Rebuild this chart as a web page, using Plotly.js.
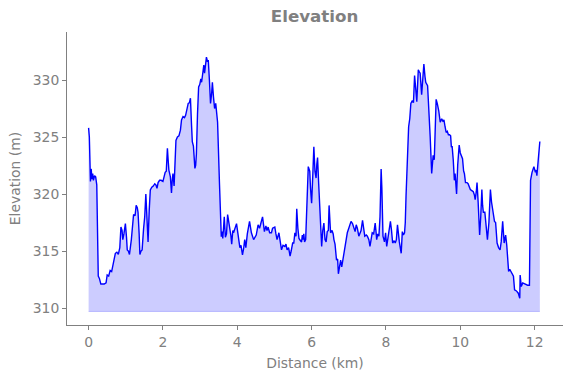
<!DOCTYPE html>
<html>
<head>
<meta charset="utf-8">
<script src="https://cdn.plot.ly/plotly-3.0.1.min.js"></script>
<style>html,body{margin:0;padding:0;background:#fff;}#chart{width:571px;height:378px;}</style>
</head>
<body>
<div id="chart"></div>
<script>
// Distance along route (km)
const distance = [
0.00,0.02,0.05,0.07,0.09,0.11,0.13,0.16,0.19,0.22,0.26,0.29,0.33,0.37,0.42,0.47,0.50,0.54,0.58,0.62,
0.65,0.72,0.76,0.80,0.84,0.87,0.90,0.92,0.95,0.99,1.02,1.04,1.07,1.10,1.15,1.21,1.25,1.28,1.31,1.33,
1.36,1.38,1.41,1.44,1.48,1.51,1.54,1.57,1.60,1.63,1.66,1.70,1.74,1.78,1.81,1.84,1.87,1.91,1.95,2.00,
2.03,2.06,2.09,2.12,2.14,2.16,2.20,2.23,2.25,2.27,2.30,2.33,2.35,2.39,2.43,2.47,2.50,2.54,2.58,2.61,
2.65,2.68,2.71,2.74,2.77,2.79,2.82,2.86,2.88,2.90,2.93,2.96,2.99,3.02,3.04,3.06,3.08,3.10,3.12,3.15,
3.17,3.20,3.22,3.25,3.28,3.31,3.33,3.36,3.39,3.42,3.45,3.47,3.52,3.57,3.59,3.61,3.63,3.65,3.68,3.71,
3.74,3.77,3.80,3.83,3.85,3.88,3.90,3.93,3.95,3.98,4.01,4.04,4.07,4.10,4.14,4.17,4.20,4.23,4.27,4.33,
4.38,4.44,4.51,4.56,4.60,4.64,4.68,4.73,4.77,4.80,4.83,4.87,4.92,4.95,5.01,5.04,5.07,5.12,5.15,5.19,
5.23,5.28,5.31,5.34,5.38,5.42,5.45,5.49,5.52,5.55,5.58,5.60,5.63,5.66,5.70,5.73,5.75,5.77,5.79,5.81,
5.84,5.87,5.91,5.93,5.95,5.97,6.00,6.03,6.06,6.09,6.12,6.14,6.16,6.19,6.23,6.27,6.30,6.33,6.36,6.39,
6.42,6.45,6.47,6.50,6.51,6.55,6.58,6.60,6.63,6.67,6.70,6.72,6.75,6.78,6.81,6.85,6.90,6.93,6.96,7.00,
7.03,7.06,7.10,7.13,7.17,7.20,7.23,7.27,7.30,7.33,7.37,7.40,7.43,7.47,7.50,7.54,7.57,7.60,7.63,7.67,
7.71,7.73,7.75,7.78,7.81,7.84,7.87,7.89,7.92,7.96,7.99,8.02,8.05,8.08,8.12,8.15,8.18,8.22,8.25,8.28,
8.31,8.36,8.41,8.44,8.47,8.50,8.52,8.54,8.58,8.61,8.64,8.67,8.71,8.74,8.77,8.80,8.83,8.85,8.87,8.90,
8.92,8.96,8.99,9.02,9.05,9.07,9.12,9.15,9.19,9.23,9.27,9.30,9.35,9.38,9.42,9.46,9.50,9.53,9.56,9.59,
9.62,9.65,9.68,9.71,9.74,9.76,9.78,9.81,9.84,9.86,9.90,9.93,9.97,10.00,10.03,10.06,10.09,10.11,10.14,10.18,
10.21,10.24,10.27,10.31,10.35,10.38,10.40,10.43,10.45,10.48,10.52,10.55,10.58,10.60,10.62,10.66,10.69,10.73,10.77,10.81,
10.84,10.87,10.92,10.95,10.99,11.03,11.07,11.10,11.14,11.18,11.22,11.25,11.30,11.33,11.36,11.40,11.43,11.46,11.51,11.56,
11.60,11.61,11.64,11.68,11.74,11.81,11.86,11.89,11.93,11.98,12.02,12.04,12.06,12.10,12.14
];
// Elevation (m)
const elevation = [
325.8,325.0,321.1,322.2,321.3,321.8,321.2,321.6,321.5,320.8,312.8,312.6,312.1,312.1,312.1,312.2,312.9,312.8,313.3,313.2,
313.6,314.8,314.9,314.7,315.3,317.1,316.8,316.0,316.5,317.4,316.2,315.1,315.0,314.7,316.0,318.2,318.1,319.0,318.8,318.4,
316.5,314.7,315.0,315.1,317.0,318.0,320.0,317.5,315.8,318.5,320.35,320.6,320.7,320.9,320.8,320.5,321.0,321.2,321.2,321.1,
321.5,321.9,322.0,324.0,323.0,322.1,321.5,320.1,321.2,321.8,320.7,323.0,324.7,325.0,325.1,325.6,326.5,326.8,326.7,326.9,
327.5,327.95,328.0,328.4,326.0,324.6,324.2,322.25,322.5,323.5,327.0,329.4,329.6,330.1,329.8,330.2,331.0,331.3,330.6,331.6,
332.0,331.6,331.75,330.0,327.95,328.8,329.8,328.5,327.5,327.95,327.0,326.3,321.0,316.25,316.7,316.1,317.0,318.0,316.2,316.5,
318.2,317.6,317.1,316.3,315.6,316.8,316.6,317.0,317.1,317.4,316.7,316.0,315.3,315.5,314.65,315.2,316.0,315.3,316.5,317.6,
316.6,316.0,316.4,317.3,317.0,317.5,318.0,316.7,317.2,316.8,317.1,316.6,316.6,317.0,317.1,316.5,316.0,316.6,316.0,315.1,
315.5,315.4,315.6,315.1,315.3,314.56,315.0,315.7,315.7,316.6,316.3,318.7,317.0,316.1,315.9,315.8,316.4,316.0,316.5,315.8,
316.0,318.9,322.4,322.2,322.0,320.5,319.2,321.5,324.15,322.0,321.4,322.6,323.2,320.9,318.0,315.4,316.8,317.45,316.0,315.8,
316.7,316.8,319.0,317.2,316.6,316.8,316.5,316.0,315.6,314.2,314.3,313.0,313.8,314.2,313.6,314.5,315.7,316.2,316.6,317.0,
317.3,317.6,317.4,317.0,316.7,317.3,317.0,316.3,316.6,316.8,317.7,317.0,316.3,316.4,316.3,316.0,315.4,316.0,316.6,316.5,
317.45,316.8,316.0,316.5,316.3,318.0,322.2,320.5,316.3,315.8,316.6,315.4,316.2,317.0,317.6,316.8,315.7,315.9,315.7,316.0,
317.3,315.8,314.8,316.7,316.4,316.6,317.5,319.8,324.0,325.9,326.6,327.95,328.2,328.0,330.4,329.1,328.1,329.5,330.9,330.7,
330.6,328.7,330.0,331.4,330.3,329.8,329.5,328.0,325.0,321.8,323.4,323.0,328.3,327.95,327.3,326.3,326.6,326.4,326.5,325.9,
325.4,325.5,325.2,325.2,325.1,324.1,324.2,323.0,321.2,321.8,320.0,322.55,324.3,323.6,323.4,323.1,322.0,321.8,321.0,321.0,
320.9,320.7,320.4,320.3,320.2,319.9,319.5,320.2,321.0,319.3,316.4,318.0,320.4,319.0,318.4,318.4,317.0,316.0,317.5,320.4,
319.3,318.7,317.6,317.5,315.7,315.3,315.1,315.8,317.6,315.7,316.4,315.5,313.2,313.4,313.2,313.0,312.8,311.6,311.5,311.3,
310.85,312.9,311.9,312.2,312.1,312.0,312.0,321.2,321.9,322.4,321.9,322.1,321.6,323.0,324.6
];
const fillBase = 309.7;
const xTicks = [0, 2, 4, 6, 8, 10, 12];
const yTicks = [310, 315, 320, 325, 330];

const grey = '#808080';
const baseline = distance.map(() => fillBase);

const traces = [
  { x: distance, y: baseline, type: 'scatter', mode: 'lines',
    line: { color: 'rgba(0,0,255,0.2)', width: 1 }, hoverinfo: 'skip', showlegend: false },
  { x: distance, y: elevation, type: 'scatter', mode: 'lines', fill: 'tonexty',
    fillcolor: 'rgba(0,0,255,0.2)', line: { color: '#0000ff', width: 1.4 }, showlegend: false }
];

const axisCommon = {
  showgrid: false, zeroline: false, showline: true, linecolor: grey, linewidth: 1,
  ticks: 'outside', ticklen: 4, tickwidth: 1, tickcolor: grey,
  tickfont: { family: 'DejaVu Sans', size: 13.9, color: grey }
};

const layout = {
  width: 571, height: 378,
  margin: { l: 67, r: 8, t: 32, b: 53 },
  paper_bgcolor: '#ffffff', plot_bgcolor: '#ffffff',
  title: { text: '<b>Elevation</b>', x: 0.551, xanchor: 'center', y: 0.972, yanchor: 'top',
           font: { family: 'DejaVu Sans', size: 16.7, color: grey } },
  xaxis: Object.assign({}, axisCommon, {
    range: [-0.581, 12.763], tickvals: xTicks, ticktext: xTicks.map(String),
    title: { text: 'Distance (km)', font: { family: 'DejaVu Sans', size: 13.9, color: grey }, standoff: 9 }
  }),
  yaxis: Object.assign({}, axisCommon, {
    range: [308.51, 334.21], tickvals: yTicks, ticktext: yTicks.map(String),
    title: { text: 'Elevation (m)', font: { family: 'DejaVu Sans', size: 13.9, color: grey }, standoff: 8 }
  }),
  showlegend: false
};

Plotly.newPlot('chart', traces, layout, { displayModeBar: false, staticPlot: true });
</script>
</body>
</html>
